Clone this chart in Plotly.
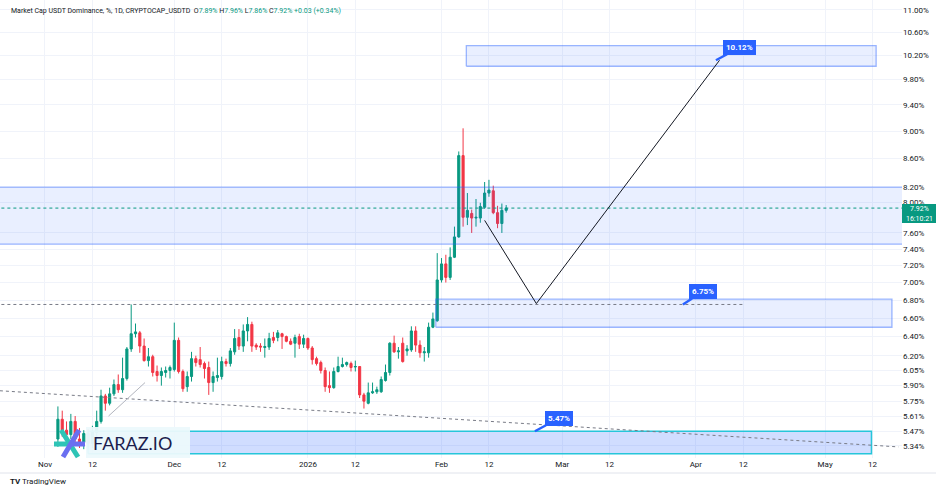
import plotly.graph_objects as go
import pandas as pd
import numpy as np

# ---------------- data ----------------
start_date = "2025-11-04"
opens = [5.40, 5.58, 5.48, 5.44, 5.56, 5.40, 5.37, 5.45, 5.36, 5.46,
         5.56, 5.80, 5.73, 5.82, 5.91, 5.86, 5.97, 6.27, 6.43, 6.44,
         6.30, 6.15, 6.19, 6.04, 6.00, 6.03, 6.05, 6.06, 6.36, 6.04,
         5.89, 5.99, 6.17, 6.16, 6.12, 6.08, 5.93, 5.98, 5.99, 6.14,
         6.12, 6.24, 6.39, 6.30, 6.46, 6.53, 6.31, 6.30, 6.285, 6.29,
         6.39, 6.39, 6.43, 6.40, 6.35, 6.33, 6.40, 6.32, 6.38, 6.28,
         6.17, 6.13, 6.05, 5.90, 5.88, 6.04, 6.09, 6.11, 6.12, 6.085,
         6.09, 5.81, 5.73, 5.83, 5.84, 5.84, 5.95, 6.03, 6.33, 6.24,
         6.33, 6.25, 6.26, 6.46, 6.31, 6.23, 6.23, 6.50, 6.57, 7.03,
         7.22, 7.06, 7.30, 7.55, 8.64, 7.80, 7.85, 7.79, 7.79, 7.93,
         8.12, 8.15, 7.86, 7.72, 7.89]
highs = [5.70, 5.66, 5.56, 5.63, 5.61, 5.50, 5.48, 5.49, 5.52, 5.66,
         5.86, 5.82, 5.88, 5.96, 6.01, 6.18, 6.29, 6.75, 6.54, 6.46,
         6.38, 6.28, 6.21, 6.10, 6.08, 6.09, 6.10, 6.55, 6.39, 6.06,
         6.04, 6.24, 6.20, 6.29, 6.14, 6.14, 6.04, 6.18, 6.19, 6.17,
         6.28, 6.48, 6.48, 6.53, 6.61, 6.56, 6.33, 6.33, 6.38, 6.44,
         6.45, 6.47, 6.44, 6.41, 6.38, 6.42, 6.43, 6.42, 6.39, 6.30,
         6.19, 6.15, 6.08, 6.04, 6.08, 6.19, 6.18, 6.14, 6.14, 6.15,
         6.09, 5.83, 5.93, 5.93, 5.89, 5.99, 6.11, 6.34, 6.41, 6.29,
         6.39, 6.31, 6.51, 6.51, 6.36, 6.29, 6.55, 6.66, 7.35, 7.29,
         7.33, 7.42, 7.68, 8.70, 9.04, 8.12, 7.90, 8.04, 7.99, 8.27,
         8.30, 8.22, 7.95, 7.98, 7.96]
lows = [5.33, 5.42, 5.36, 5.40, 5.36, 5.32, 5.31, 5.33, 5.32, 5.40,
        5.54, 5.66, 5.71, 5.80, 5.83, 5.83, 5.95, 6.24, 6.39, 6.23,
        6.14, 6.09, 5.99, 5.94, 5.90, 5.98, 5.97, 6.04, 6.02, 5.84,
        5.84, 5.94, 6.09, 6.08, 5.97, 5.81, 5.84, 5.94, 5.96, 6.09,
        6.09, 6.21, 6.26, 6.24, 6.35, 6.24, 6.26, 6.24, 6.18, 6.26,
        6.33, 6.35, 6.27, 6.34, 6.31, 6.18, 6.27, 6.28, 6.26, 6.11,
        6.10, 6.02, 5.84, 5.83, 5.87, 6.03, 6.08, 6.09, 6.04, 6.04,
        5.78, 5.68, 5.72, 5.82, 5.82, 5.83, 5.94, 6.00, 6.23, 6.17,
        6.13, 6.20, 6.24, 6.24, 6.18, 6.14, 6.18, 6.49, 6.56, 7.00,
        7.00, 7.03, 7.29, 7.54, 7.68, 7.70, 7.60, 7.68, 7.73, 7.91,
        8.07, 7.84, 7.66, 7.60, 7.86]
closes = [5.58, 5.48, 5.44, 5.56, 5.40, 5.37, 5.45, 5.36, 5.47, 5.56,
          5.80, 5.73, 5.82, 5.91, 5.86, 5.97, 6.27, 6.43, 6.45, 6.30,
          6.15, 6.19, 6.03, 6.00, 6.04, 6.05, 6.08, 6.36, 6.04, 5.87,
          5.99, 6.17, 6.13, 6.11, 6.07, 5.93, 5.99, 6.00, 6.14, 6.12,
          6.25, 6.38, 6.30, 6.46, 6.53, 6.30, 6.29, 6.29, 6.295, 6.38,
          6.36, 6.44, 6.40, 6.35, 6.32, 6.39, 6.32, 6.38, 6.28, 6.16,
          6.12, 6.05, 5.89, 5.88, 6.04, 6.09, 6.11, 6.13, 6.08, 6.09,
          5.81, 5.75, 5.83, 5.84, 5.86, 5.96, 6.03, 6.33, 6.24, 6.25,
          6.14, 6.27, 6.46, 6.31, 6.23, 6.24, 6.50, 6.59, 7.03, 7.22,
          7.06, 7.30, 7.55, 8.64, 7.80, 7.89, 7.79, 7.80, 7.94, 8.12,
          8.16, 7.86, 7.72, 7.89, 7.92]
dates = pd.date_range(start_date, periods=len(opens), freq="D")

y_ticks = [5.34, 5.47, 5.61, 5.75, 5.90, 6.05, 6.20, 6.40, 6.60, 6.80, 7.00,
           7.20, 7.40, 7.60, 8.00, 8.20, 8.60, 9.00, 9.40, 9.80, 10.20,
           10.60, 11.00]
y_tick_labels = [f"{v:.2f}%" for v in y_ticks]
x_ticks = ["2025-11-01", "2025-11-12", "2025-12-01", "2025-12-12", "2026-01-01",
           "2026-01-12", "2026-02-01", "2026-02-12", "2026-03-01", "2026-03-12",
           "2026-04-01", "2026-04-12", "2026-05-01", "2026-05-12"]
x_tick_labels = ["Nov", "12", "Dec", "12", "2026", "12", "Feb", "12", "Mar",
                 "12", "Apr", "12", "May", "12"]

# drawings (dates / price levels)
zone_target = (["2026-02-06 18:00", "2026-05-12 20:00"], [10.02, 10.37])
zone_main = (["2025-10-01", "2026-06-30"], [7.46, 8.20])
zone_support = (["2026-01-30 16:00", "2026-05-16 12:00"], [6.50, 6.81])
zone_bottom = (["2025-11-11", "2026-05-11 18:00"], [5.27, 5.47])
path_x = ["2026-02-11", "2026-02-23", "2026-04-06 12:00"]
path_y = [7.76, 6.76, 10.12]
trend_x = ["2025-10-21 13:00", "2026-05-18"]
trend_y = [5.85, 5.33]
small_line_x = ["2025-11-15 18:00", "2025-11-24 05:00"]
small_line_y = [5.61, 5.93]
level_675_x = ["2025-10-01", "2026-04-12 10:00"]
level_675 = 6.75
last_price = 7.92
callouts = [("10.12%", "2026-04-05 16:00", 10.12, 24),
            ("6.75%", "2026-03-29", 6.75, 20),
            ("5.47%", "2026-02-22 16:00", 5.47, 24)]

GREEN = "#089981"
RED = "#f23645"
BLUE = "#2962ff"

fig = go.Figure()


def rect_trace(xs, ys, fill, line, width=1.3):
    x0, x1 = xs
    y0, y1 = ys
    return go.Scatter(x=[x0, x1, x1, x0, x0], y=[y0, y0, y1, y1, y0],
                      mode="lines", fill="toself", fillcolor=fill,
                      line=dict(color=line, width=width), hoverinfo="skip",
                      showlegend=False)


fig.add_trace(rect_trace(*zone_main, "rgba(41,98,255,0.10)", "rgba(41,98,255,0.45)"))
fig.add_trace(rect_trace(*zone_target, "rgba(41,98,255,0.10)", "rgba(41,98,255,0.45)"))
fig.add_trace(rect_trace(*zone_support, "rgba(41,98,255,0.10)", "rgba(41,98,255,0.45)"))
fig.add_trace(rect_trace(*zone_bottom, "rgba(41,98,255,0.22)", "#26c6da", 1.5))

# level lines
fig.add_trace(go.Scatter(x=level_675_x, y=[level_675, level_675], mode="lines",
                         line=dict(color="#787b86", width=1, dash="dot"),
                         hoverinfo="skip", showlegend=False))
fig.add_trace(go.Scatter(x=["2025-10-01", "2026-06-30"], y=[last_price, last_price],
                         mode="lines", line=dict(color=GREEN, width=1, dash="dot"),
                         hoverinfo="skip", showlegend=False))
fig.add_trace(go.Scatter(x=trend_x, y=trend_y, mode="lines",
                         line=dict(color="#787b86", width=1, dash="dot"),
                         hoverinfo="skip", showlegend=False))
fig.add_trace(go.Scatter(x=small_line_x, y=small_line_y, mode="lines",
                         line=dict(color="#b2b5be", width=1),
                         hoverinfo="skip", showlegend=False))

fig.add_trace(go.Candlestick(
    x=dates, open=opens, high=highs, low=lows, close=closes,
    increasing=dict(line=dict(color=GREEN, width=1), fillcolor=GREEN),
    decreasing=dict(line=dict(color=RED, width=1), fillcolor=RED),
    whiskerwidth=0, showlegend=False, hoverinfo="skip"))

fig.add_trace(go.Scatter(x=path_x, y=path_y, mode="lines",
                         line=dict(color="#131722", width=1),
                         hoverinfo="skip", showlegend=False))

PW, PH = 902.0, 458.0


def px(x):
    return x / PW


def py(y):
    return 1 - y / PH


annotations = []
for text, xd, val, axo in callouts:
    annotations.append(dict(
        x=xd, y=np.log10(val), xref="x", yref="y", text=f"<b>{text}</b>",
        showarrow=True, arrowhead=0, arrowwidth=2.5, arrowcolor=BLUE,
        ax=axo, ay=-13, standoff=0, bgcolor=BLUE, bordercolor=BLUE,
        borderpad=2, font=dict(color="white", size=8, family="Roboto")))

ohlc = (f"O<span style='color:{GREEN}'>7.89%</span> "
        f"H<span style='color:{GREEN}'>7.96%</span> "
        f"L<span style='color:{GREEN}'>7.86%</span> "
        f"C<span style='color:{GREEN}'>7.92%</span> "
        f"<span style='color:{GREEN}'>+0.03 (+0.34%)</span>")
annotations.append(dict(
    x=px(9), y=py(11), xref="paper", yref="paper", xanchor="left", yanchor="middle",
    showarrow=False,
    text="Market Cap USDT Dominance, %, 1D, CRYPTOCAP_USDTD  " + ohlc,
    font=dict(size=7, color="#131722", family="Roboto")))

# last price tag text
annotations.append(dict(x=px(919), y=py(209), xref="paper", yref="paper",
                        xanchor="center", yanchor="middle", showarrow=False,
                        text="7.92%", font=dict(size=7, color="white", family="Roboto")))
annotations.append(dict(x=px(919), y=py(218.5), xref="paper", yref="paper",
                        xanchor="center", yanchor="middle", showarrow=False,
                        text="16:10:21", font=dict(size=7, color="white", family="Roboto")))

# logo text
annotations.append(dict(x=px(91), y=py(443), xref="paper", yref="paper",
                        xanchor="left", yanchor="middle", showarrow=False,
                        text="FARAZ.IO", font=dict(size=18, color="#1b1d4d", family="Lato")))

# footer
annotations.append(dict(x=px(8), y=py(482), xref="paper", yref="paper",
                        xanchor="left", yanchor="middle", showarrow=False,
                        text="<b>TV</b> TradingView",
                        font=dict(size=8, color="#131722", family="Roboto")))

shapes = [
    # price tag
    dict(type="rect", xref="paper", yref="paper", x0=px(902), x1=px(936),
         y0=py(223), y1=py(204), fillcolor=GREEN, line=dict(width=0), layer="above"),
    # logo pill
    dict(type="rect", xref="paper", yref="paper", x0=px(86), x1=px(190),
         y0=py(458), y1=py(427), fillcolor="rgba(236,249,252,0.95)",
         line=dict(width=0), layer="above"),
    # logo icon strokes
    dict(type="line", xref="paper", yref="paper", x0=px(54), x1=px(71),
         y0=py(444), y1=py(444), line=dict(color="#2ec4b6", width=5), layer="above"),
    dict(type="line", xref="paper", yref="paper", x0=px(61), x1=px(78),
         y0=py(430), y1=py(457), line=dict(color="#2ec4b6", width=5), layer="above"),
    dict(type="line", xref="paper", yref="paper", x0=px(79), x1=px(63),
         y0=py(430), y1=py(457), line=dict(color="#6a6ff0", width=5), layer="above"),
    dict(type="line", xref="paper", yref="paper", x0=px(70), x1=px(85),
         y0=py(444), y1=py(444), line=dict(color="#6a6ff0", width=5), layer="above"),
    # footer separator
    dict(type="line", xref="paper", yref="paper", x0=0, x1=px(936),
         y0=py(473), y1=py(473), line=dict(color="#e0e3eb", width=1), layer="above"),
]

fig.update_layout(
    width=936, height=492,
    margin=dict(l=0, r=34, t=0, b=34),
    paper_bgcolor="white", plot_bgcolor="white",
    hovermode=False, showlegend=False,
    annotations=annotations, shapes=shapes,
    xaxis=dict(type="date", range=["2025-10-21 13:30", "2026-05-18 20:00"],
               tickvals=x_ticks, ticktext=x_tick_labels, showgrid=True,
               gridcolor="#f0f3fa", gridwidth=1, zeroline=False, showline=False,
               ticks="", tickfont=dict(size=8, color="#131722", family="Roboto"),
               rangeslider=dict(visible=False), fixedrange=True),
    yaxis=dict(type="log", range=[0.71873, 1.04859], side="right",
               tickvals=y_ticks, ticktext=y_tick_labels, showgrid=True,
               gridcolor="#f0f3fa", gridwidth=1, zeroline=False, showline=False,
               ticks="", tickfont=dict(size=8, color="#131722", family="Roboto"),
               fixedrange=True),
)

fig.write_html("out.html")
